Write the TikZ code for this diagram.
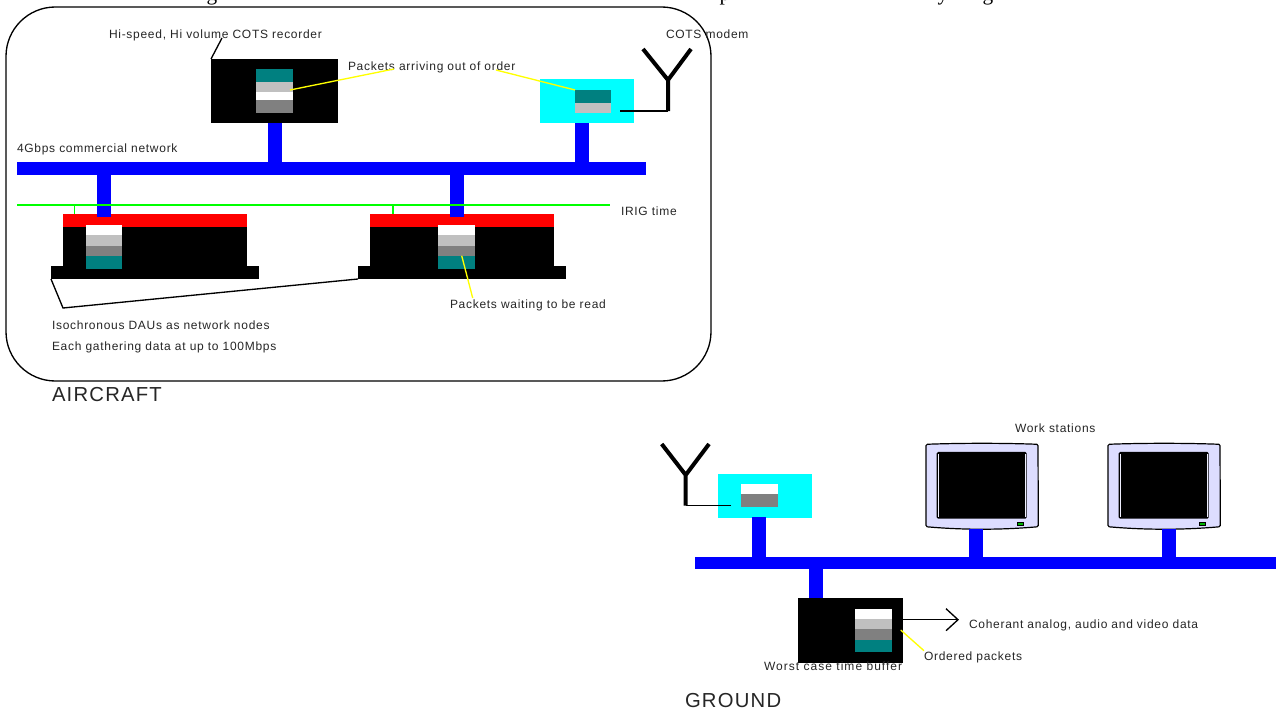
\documentclass[tikz,border=0pt]{standalone}
\usepackage{fontspec}
\setmainfont{Liberation Sans}
\newfontfamily\lbl[LetterSpace=6]{Liberation Sans}
\newfontfamily\lblw[LetterSpace=8.6]{Liberation Sans}
\newfontfamily\topf{Liberation Serif}
\definecolor{teal2}{HTML}{008080}
\definecolor{silver2}{HTML}{C0C0C0}
\definecolor{grey2}{HTML}{808080}
\definecolor{lav}{HTML}{DDDDFF}
\definecolor{cyan2}{RGB}{0,255,255}
\definecolor{blue2}{RGB}{0,0,255}
\definecolor{red2}{RGB}{255,0,0}
\definecolor{green2}{RGB}{0,255,0}
\definecolor{yellow2}{RGB}{255,255,0}
\tikzset{
  block/.style={inner sep=0pt,outer sep=0pt,draw=none,rectangle},
  lab/.style={inner sep=0pt,outer sep=0pt,font=\lbl\fontsize{9pt}{10pt}\selectfont,text=black!85,anchor=base west},
  labw/.style={lab,font=\lblw\fontsize{9pt}{10pt}\selectfont},
  biglab/.style={inner sep=0pt,outer sep=0pt,font=\lbl\fontsize{15.2pt}{17pt}\selectfont,text=black!85,anchor=base west},
  stemline/.style={draw=blue2,line width=10.5pt},
  leaderB/.style={draw=black,line width=1pt},
  leaderY/.style={draw=yellow2,line width=1pt},
  ant/.style={draw=black,line width=3pt,miter limit=2},
  topglyph/.style={inner sep=0pt,anchor=base,font=\topf\fontsize{16pt}{18pt}\selectfont},
  tick/.style={draw=green2,line width=0.8pt},
}
% \bx{name}{fill}{x1}{y1}{x2}{y2}
\newcommand\bx[6]{\node[block,fill=#2,minimum width={(#5-#3)*0.75pt},minimum height={(#6-#4)*0.75pt}] (#1) at ({(#3+#5)/2},{(#4+#6)/2}) {};}
\newcommand\monitor[2]{% name, left x
  \begin{scope}[shift={(#2,0)}]
  \filldraw[fill=lav,draw=black,line width=0.9pt,rounded corners=1pt] (0,444.3) .. controls (35,443) and (77,443) .. (112,444.3)
     -- (112.3,526.7) .. controls (75,530) and (37,530) .. (0,526.7) -- cycle;
  \node[block,fill=black,rounded corners=1pt,minimum width={90*0.75pt},minimum height={66.7*0.75pt}] (#1) at (55.7,485.3) {};
  \draw[white!55!lav,line width=0.6pt] (12,454) -- (12,516.5) (99.5,454) -- (99.5,516.5);
  \node[block,fill=green!70!black,draw=black,line width=0.5pt,minimum width={6*0.75pt},minimum height={3*0.75pt}] at (94.5,523.5) {};
  \end{scope}
  \node[block,minimum width={112*0.75pt},minimum height={86*0.75pt}] (#1base) at ({#2+56},486) {};
}
\begin{document}
\begin{tikzpicture}[x=0.75pt,y=-0.75pt]
\useasboundingbox (0,0) rectangle (1276,710);
\fill[white] (0,0) rectangle (1276,710);
% clipped line of text above the frame
\begin{scope}
\clip (0,0) rectangle (1276,710);
\node[topglyph] (tg1) at (212,1) {g};
\node[topglyph] (tp) at (725,1) {p};
\node[topglyph] (ty) at (943,1) {y};
\node[topglyph] (tg2) at (988,1) {g};
\end{scope}
% aircraft frame
\node[block,draw=black,line width=1pt,rounded corners=37pt,minimum width={705*0.75pt},minimum height={374*0.75pt}] (frame) at (358.5,194) {};
% aircraft bus
\bx{bus}{blue2}{17}{162}{646}{175}
% recorder
\bx{rec}{black}{211}{59}{338}{123}
\bx{r1}{teal2}{256}{69}{293}{82}
\bx{r2}{silver2}{256}{82}{293}{92}
\bx{r3}{white}{256}{92}{293}{100}
\bx{r4}{grey2}{256}{100}{293}{113}
% modem
\bx{modem}{cyan2}{540}{79}{634}{123}
\bx{m1}{teal2}{575}{90}{611}{103}
\bx{m2}{silver2}{575}{103}{611}{113}
\draw[stemline] (rec.south) -- (rec.south |- bus.north);
\draw[stemline] ([xshift=-3.75pt]modem.south) -- ([xshift=-3.75pt]modem.south |- bus.north);
% antenna
\coordinate (a1foot) at (668,111);
\coordinate (a1neck) at (668,80);
\coordinate (a1l) at (643,49);
\coordinate (a1r) at (691,49);
\coordinate (m1tap) at (620,111);
\draw[leaderB] (m1tap) -- (a1foot);
\draw[ant] (a1foot) -- (a1neck) -- (a1l) (a1neck) -- (a1r);
% DAU 1
\bx{d1red}{red2}{63}{214}{247}{227}
\bx{d1body}{black}{63}{227}{247}{266}
\bx{d1base}{black}{51}{266}{259}{279}
\bx{d1s1}{white}{85.5}{224.7}{122}{235}
\bx{d1s2}{silver2}{85.5}{235}{122}{245.7}
\bx{d1s3}{grey2}{85.5}{245.7}{122}{255.7}
\bx{d1s4}{teal2}{85.5}{255.7}{122}{268.7}
% DAU 2
\bx{d2red}{red2}{370}{214}{554}{227}
\bx{d2body}{black}{370}{227}{554}{266}
\bx{d2base}{black}{358}{266}{566}{279}
\bx{d2s1}{white}{438}{224.7}{475}{235}
\bx{d2s2}{silver2}{438}{235}{475}{245.7}
\bx{d2s3}{grey2}{438}{245.7}{475}{255.7}
\bx{d2s4}{teal2}{438}{255.7}{475}{268.7}
% stems to DAUs
\coordinate (d1stem) at (103.8,217);
\coordinate (d2stem) at (456.6,217);
\draw[stemline] (d1stem) -- (d1stem |- bus.south);
\draw[stemline] (d2stem) -- (d2stem |- bus.south);
% IRIG
\coordinate (irigL) at (17,205);
\coordinate (irigR) at (610,205);
\coordinate (t1) at (74.5,205);
\coordinate (t2) at (393,205);
\draw[tick] (irigL) -- (irigR);
\draw[tick] (t1) -- (t1 |- d1red.north);
\draw[tick] (t2) -- (t2 |- d2red.north);
% labels aircraft
\node[lab] (lrec) at (109,39) {Hi-speed, Hi volume COTS recorder};
\node[lab] (larr) at (348,70) {Packets arriving out of order};
\node[lab] (lmod) at (666,39) {COTS modem};
\node[lab] (lnet) at (17,152) {4Gbps commercial network};
\node[lab] (lirig) at (621,215) {IRIG time};
\node[lab] (lwait) at (450,308) {Packets waiting to be read};
\node[lab] (liso) at (52,329) {Isochronous DAUs as network nodes};
\node[lab] (leach) at (52,350) {Each gathering data at up to 100Mbps};
\node[biglab] (lair) at (52,401) {AIRCRAFT};
% leaders
\coordinate (jr) at (222,38);
\draw[leaderB] (rec.north west) -- (jr);
\coordinate (y1a) at (290,90);
\coordinate (y1b) at (394,69);
\coordinate (y2a) at (496,70);
\draw[leaderY] (y1a) -- (y1b);
\draw[leaderY] (y2a) -- (m1.north west);
\coordinate (y3a) at (461.7,255.7);
\coordinate (y3b) at (472.7,298);
\draw[leaderY] (y3a) -- (y3b);
\coordinate (dl) at (63,308);
\draw[leaderB] (d1base.south west) -- (dl) -- (d2base.south west);
% ground
\bx{gbus}{blue2}{695}{557}{1276}{569}
\bx{gmodem}{cyan2}{718}{474}{812}{517.5}
\bx{g1}{white}{741}{484}{778}{494.3}
\bx{g2}{grey2}{741}{494.3}{778}{507.3}
\coordinate (gst) at (759,517);
\draw[stemline] (gst) -- (gst |- gbus.north);
\bx{gbox}{black}{798}{598}{903}{662.7}
\coordinate (gst2) at (816,598);
\draw[stemline] (gst2) -- (gst2 |- gbus.south);
\bx{b1}{white}{854.7}{608.7}{891.7}{619}
\bx{b2}{silver2}{854.7}{619}{891.7}{629.3}
\bx{b3}{grey2}{854.7}{629.3}{891.7}{640}
\bx{b4}{teal2}{854.7}{640}{891.7}{652.3}
% ground antenna
\coordinate (a2foot) at (685.7,505.7);
\coordinate (a2neck) at (685.7,475);
\coordinate (a2l) at (661.7,444);
\coordinate (a2r) at (709,444);
\coordinate (g2tap) at (731,505.7);
\draw[leaderB] (g2tap) -- (a2foot);
\draw[ant] (a2foot) -- (a2neck) -- (a2l) (a2neck) -- (a2r);
% monitors
\monitor{mon1}{926}
\monitor{mon2}{1108}
\coordinate (s1) at (975.7,529);
\coordinate (s2) at (1169,529);
\draw[stemline] (s1) -- (s1 |- gbus.north);
\draw[stemline] (s2) -- (s2 |- gbus.north);
% output arrow
\coordinate (tipo) at (958,619.7);
\coordinate (hd1) at (946,608.7);
\coordinate (hd2) at (946,630.7);
\draw[leaderB] (gbox.east |- tipo) -- (tipo);
\draw[leaderB] (hd1) -- (tipo) -- (hd2);
% ground labels
\node[lab] (lws) at (1015,432) {Work stations};
\node[lab] (lcoh) at (969,628) {Coherant analog, audio and video data};
\node[lab] (lord) at (924,660) {Ordered packets};
\node[labw] (lwor) at (764,670) {Worst case time buffer};
\node[biglab] (lgr) at (685,707) {GROUND};
\coordinate (y4a) at (900.7,630);
\coordinate (y4b) at (924,650.7);
\draw[leaderY] (y4a) -- (y4b);
\end{tikzpicture}
\end{document}
